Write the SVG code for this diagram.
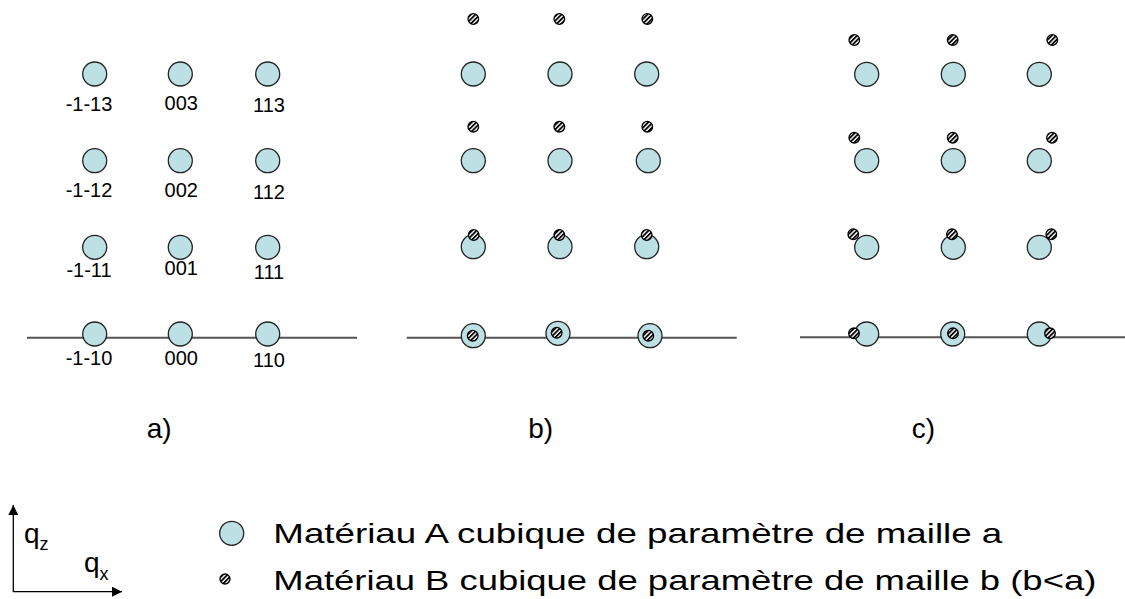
<svg xmlns="http://www.w3.org/2000/svg" width="1125" height="599" viewBox="0 0 1125 599">
<style>
.A{fill:#bce0e3;stroke:#222;stroke-width:1.3}
.B{fill:url(#hatch);stroke:#000;stroke-width:1.3}
.ax{stroke:#555;stroke-width:2;fill:none}
.lbl{font-family:"Liberation Sans",Arial,sans-serif;font-size:20px;fill:#000;text-anchor:middle}
.cap{font-family:"Liberation Sans",Arial,sans-serif;font-size:28px;fill:#000}
.leg{font-family:"Liberation Sans",Arial,sans-serif;font-size:28px;fill:#000}
</style>
<defs>
<pattern id="hatch" width="3.2" height="3.2" patternUnits="userSpaceOnUse" patternTransform="rotate(45)">
<rect width="3.2" height="3.2" fill="#fff"/>
<rect width="1.8" height="3.2" fill="#000"/>
</pattern>
<marker id="arr" viewBox="0 0 10 10" refX="10" refY="5" markerWidth="10" markerHeight="10" markerUnits="userSpaceOnUse" orient="auto">
<path d="M0,0 L10,5 L0,10 z" fill="#000"/>
</marker>
</defs>
<g id="connectors">
<line class="ax" x1="27" y1="337.7" x2="357" y2="337.7"/>
<line class="ax" x1="406.7" y1="337.7" x2="736.7" y2="337.7"/>
<line class="ax" x1="800" y1="337.3" x2="1125" y2="337.3"/>
<line x1="13.3" y1="592" x2="13.3" y2="505" stroke="#000" stroke-width="1.3" marker-end="url(#arr)"/>
<line x1="13" y1="591.7" x2="122" y2="591.7" stroke="#000" stroke-width="1.3" marker-end="url(#arr)"/>
</g>
<g id="panel-a">
<circle class="A" cx="94.7" cy="74" r="12"/><circle class="A" cx="180.3" cy="74" r="12"/><circle class="A" cx="267.7" cy="74" r="12"/>
<circle class="A" cx="94.7" cy="160.7" r="12"/><circle class="A" cx="180.3" cy="160.7" r="12"/><circle class="A" cx="267.7" cy="160.7" r="12"/>
<circle class="A" cx="94.7" cy="247.3" r="12"/><circle class="A" cx="180.3" cy="247.3" r="12"/><circle class="A" cx="267.7" cy="247.3" r="12"/>
<circle class="A" cx="94.7" cy="334" r="12"/><circle class="A" cx="180.3" cy="334" r="12"/><circle class="A" cx="267.7" cy="334" r="12"/>
<text class="lbl" x="89" y="110.5">-1-13</text><text class="lbl" x="181.3" y="110">003</text><text class="lbl" x="269" y="112">113</text>
<text class="lbl" x="89" y="197.3">-1-12</text><text class="lbl" x="181.3" y="196.7">002</text><text class="lbl" x="269" y="199.3">112</text>
<text class="lbl" x="89" y="276.7">-1-11</text><text class="lbl" x="181.3" y="275.3">001</text><text class="lbl" x="269" y="279.3">111</text>
<text class="lbl" x="89" y="365">-1-10</text><text class="lbl" x="181.3" y="365">000</text><text class="lbl" x="269" y="367.3">110</text>
<text class="cap" x="146.7" y="438">a)</text>
</g>
<g id="panel-b">
<circle class="A" cx="473.3" cy="74" r="12"/><circle class="A" cx="560" cy="74" r="12"/><circle class="A" cx="646.7" cy="74" r="12"/>
<circle class="A" cx="473.3" cy="160.7" r="12"/><circle class="A" cx="560" cy="160.7" r="12"/><circle class="A" cx="648.3" cy="160.7" r="12"/>
<circle class="A" cx="473.3" cy="246.7" r="12"/><circle class="A" cx="560" cy="246.7" r="12"/><circle class="A" cx="646.7" cy="246.7" r="12"/>
<circle class="A" cx="473.3" cy="335.7" r="12"/><circle class="A" cx="558" cy="333.3" r="12"/><circle class="A" cx="650" cy="335.7" r="12"/>
<circle class="B" cx="473.3" cy="19" r="5.3"/><circle class="B" cx="559.3" cy="19" r="5.3"/><circle class="B" cx="647.3" cy="19" r="5.3"/>
<circle class="B" cx="473.3" cy="126.7" r="5.3"/><circle class="B" cx="559.3" cy="126.7" r="5.3"/><circle class="B" cx="647.3" cy="126.7" r="5.3"/>
<circle class="B" cx="473.7" cy="235" r="5.3"/><circle class="B" cx="559.3" cy="235" r="5.3"/><circle class="B" cx="646.7" cy="235" r="5.3"/>
<circle class="B" cx="472.7" cy="335.7" r="5.3"/><circle class="B" cx="556.7" cy="332.7" r="5.3"/><circle class="B" cx="648.3" cy="335.7" r="5.3"/>
<text class="cap" x="528.3" y="438">b)</text>
</g>
<g id="panel-c">
<circle class="A" cx="866.7" cy="74.3" r="12"/><circle class="A" cx="953.3" cy="74.3" r="12"/><circle class="A" cx="1039.3" cy="74.3" r="12"/>
<circle class="A" cx="866.7" cy="160.7" r="12"/><circle class="A" cx="953.3" cy="160.7" r="12"/><circle class="A" cx="1039.3" cy="160.7" r="12"/>
<circle class="A" cx="866.7" cy="247.3" r="12"/><circle class="A" cx="953.3" cy="247.3" r="12"/><circle class="A" cx="1039.3" cy="247.3" r="12"/>
<circle class="A" cx="866.7" cy="334" r="12"/><circle class="A" cx="952.7" cy="334" r="12"/><circle class="A" cx="1039.3" cy="334" r="12"/>
<circle class="B" cx="854.3" cy="40" r="5.3"/><circle class="B" cx="952.7" cy="40" r="5.3"/><circle class="B" cx="1052.3" cy="40" r="5.3"/>
<circle class="B" cx="854.3" cy="137.7" r="5.3"/><circle class="B" cx="952.7" cy="137.7" r="5.3"/><circle class="B" cx="1052" cy="137.7" r="5.3"/>
<circle class="B" cx="853.3" cy="234.3" r="5.3"/><circle class="B" cx="952" cy="234.3" r="5.3"/><circle class="B" cx="1051.3" cy="234.3" r="5.3"/>
<circle class="B" cx="854" cy="333.3" r="5.3"/><circle class="B" cx="953" cy="333.3" r="5.3"/><circle class="B" cx="1050" cy="333.3" r="5.3"/>
<text class="cap" x="911.7" y="438">c)</text>
</g>
<g id="axes-labels">
<text class="leg" x="24" y="543">q<tspan font-size="18" dy="7">z</tspan></text>
<text class="leg" x="84" y="572">q<tspan font-size="18" dy="8">x</tspan></text>
</g>
<g id="legend">
<circle class="A" cx="231.7" cy="533.3" r="12"/>
<text class="leg" x="273.3" y="543.3" textLength="729" lengthAdjust="spacingAndGlyphs">Matériau A cubique de paramètre de maille a</text>
<circle class="B" cx="225" cy="579" r="5"/>
<text class="leg" x="273.3" y="590" textLength="823" lengthAdjust="spacingAndGlyphs">Matériau B cubique de paramètre de maille b (b&lt;a)</text>
</g>
</svg>
